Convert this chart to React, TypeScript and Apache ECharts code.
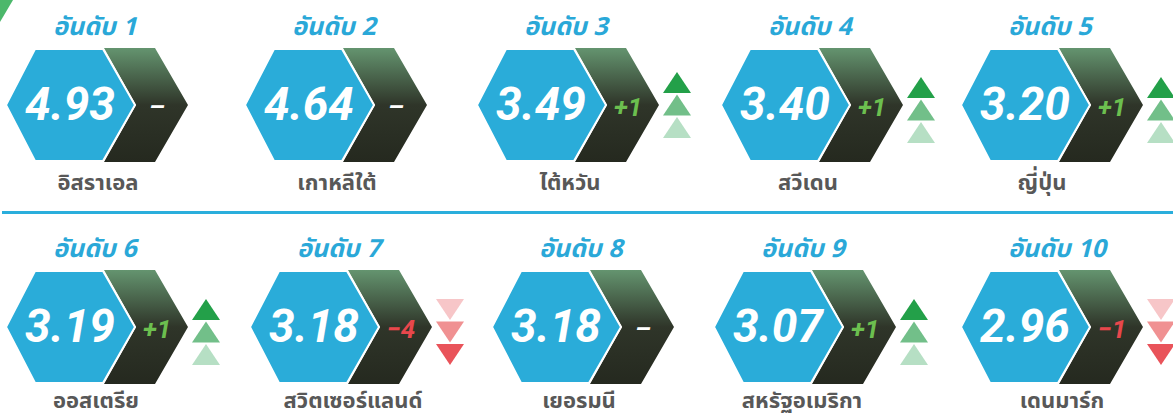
import React, { useEffect, useRef } from 'react';
import * as echarts from 'echarts';

// ---- data ----
const ranks = [1, 2, 3, 4, 5, 6, 7, 8, 9, 10];
const countries = ['อิสราเอล', 'เกาหลีใต้', 'ไต้หวัน', 'สวีเดน', 'ญี่ปุ่น', 'ออสเตรีย', 'สวิตเซอร์แลนด์', 'เยอรมนี', 'สหรัฐอเมริกา', 'เดนมาร์ก'];
const scores = ['4.93', '4.64', '3.49', '3.40', '3.20', '3.19', '3.18', '3.18', '3.07', '2.96'];
const changes = [0, 0, 1, 1, 1, 1, -4, 0, 1, -1];
const rankLabel = 'อันดับ';

// ---- layout (positions only) ----
const cardX = [0, 239, 471, 715, 955, 0, 244, 486, 708, 955];
const rowCY = [105, 327];
const nameDY = [78, 74];
const triTop = [-28, -28, -33, -28, -28, -28, -28, -28, -28, -28];
const nameCX = [98, 98, 99, 93, 87, 96, 109, 93, 94, 107];

const THAI = "'Noto Sans Thai', 'Noto Sans Thai UI', 'Noto Sans', sans-serif";
const NUM = "Roboto, 'Noto Sans', sans-serif";

function buildGraphics() {
  const els: any[] = [];
  els.push({
    type: 'polygon',
    shape: { points: [[0, 0], [13, 0], [0, 22]] },
    style: { fill: '#4cb86b' },
  });
  els.push({
    type: 'line',
    shape: { x1: 2, y1: 212.5, x2: 1173, y2: 212.5 },
    style: { stroke: '#2aaedc', lineWidth: 3 },
  });
  ranks.forEach((rank, i) => {
    const ox = cardX[i];
    const row = i < 5 ? 0 : 1;
    const cy = rowCY[row];
    const ch = changes[i];
    // chevron
    els.push({
      type: 'polygon',
      shape: {
        points: [[ox + 104, cy - 57], [ox + 155, cy - 57], [ox + 188, cy], [ox + 155, cy + 57], [ox + 104, cy + 57], [ox + 136, cy]],
      },
      style: {
        fill: new echarts.graphic.LinearGradient(0, 0, 0, 1, [
          { offset: 0, color: '#64946f' },
          { offset: 0.5, color: '#2f3529' },
          { offset: 1, color: '#25291f' },
        ]),
      },
    });
    // blue hexagon
    els.push({
      type: 'polygon',
      shape: {
        points: [[ox + 6, cy], [ox + 35, cy - 56], [ox + 103, cy - 56], [ox + 135, cy], [ox + 103, cy + 56], [ox + 35, cy + 56]],
      },
      style: { fill: '#2aacd9', stroke: '#ffffff', lineWidth: 2 },
    });
    // value
    els.push({
      type: 'text',
      style: {
        text: scores[i], x: ox + 70, y: cy - 1, align: 'center', verticalAlign: 'middle',
        fill: '#ffffff', fontFamily: NUM, fontSize: 46, fontWeight: 'bold', fontStyle: 'italic',
      },
    });
    // change
    const chText = ch > 0 ? '+' + ch : ch < 0 ? '−' + Math.abs(ch) : '–';
    const chColor = ch > 0 ? '#6cbf4f' : ch < 0 ? '#e8474c' : '#ffffff';
    els.push({
      type: 'text',
      style: {
        text: chText, x: ox + 157, y: cy + 2, align: 'center', verticalAlign: 'middle',
        fill: chColor, fontFamily: NUM, fontSize: 26, fontWeight: 'bold', fontStyle: 'italic',
      },
    });
    // triangles
    if (ch !== 0) {
      const colors = ch > 0 ? ['#23a049', '#72bf89', '#b6dfc4'] : ['#f7c6c8', '#f09192', '#e9535a'];
      const tx = ox + 192;
      for (let k = 0; k < 3; k++) {
        const t = cy + triTop[i] + k * 22.5;
        const pts = ch > 0
          ? [[tx + 14, t], [tx + 28, t + 21], [tx, t + 21]]
          : [[tx, t], [tx + 28, t], [tx + 14, t + 21]];
        els.push({ type: 'polygon', shape: { points: pts }, style: { fill: colors[k] } });
      }
    }
    // title
    els.push({
      type: 'text',
      style: {
        text: rankLabel + ' ' + rank, x: ox + 53, y: cy - 78, align: 'left', verticalAlign: 'middle',
        fill: '#2aa8d8', fontFamily: THAI, fontSize: 25, fontWeight: 'bold', fontStyle: 'italic',
      },
    });
    // name
    els.push({
      type: 'text',
      style: {
        text: countries[i], x: ox + nameCX[i], y: cy + nameDY[row], align: 'center', verticalAlign: 'middle',
        fill: '#585858', fontFamily: THAI, fontSize: 22, fontWeight: 'bold',
      },
    });
  });
  return els;
}

export default function App() {
  const ref = useRef<HTMLDivElement>(null);
  useEffect(() => {
    document.body.style.margin = '0';
    const chart = echarts.init(ref.current!, undefined, { renderer: 'svg' });
    chart.setOption({ animation: false, graphic: { elements: buildGraphics() } });
    return () => chart.dispose();
  }, []);
  return <div ref={ref} style={{ width: 1173, height: 419, background: '#ffffff' }} />;
}
